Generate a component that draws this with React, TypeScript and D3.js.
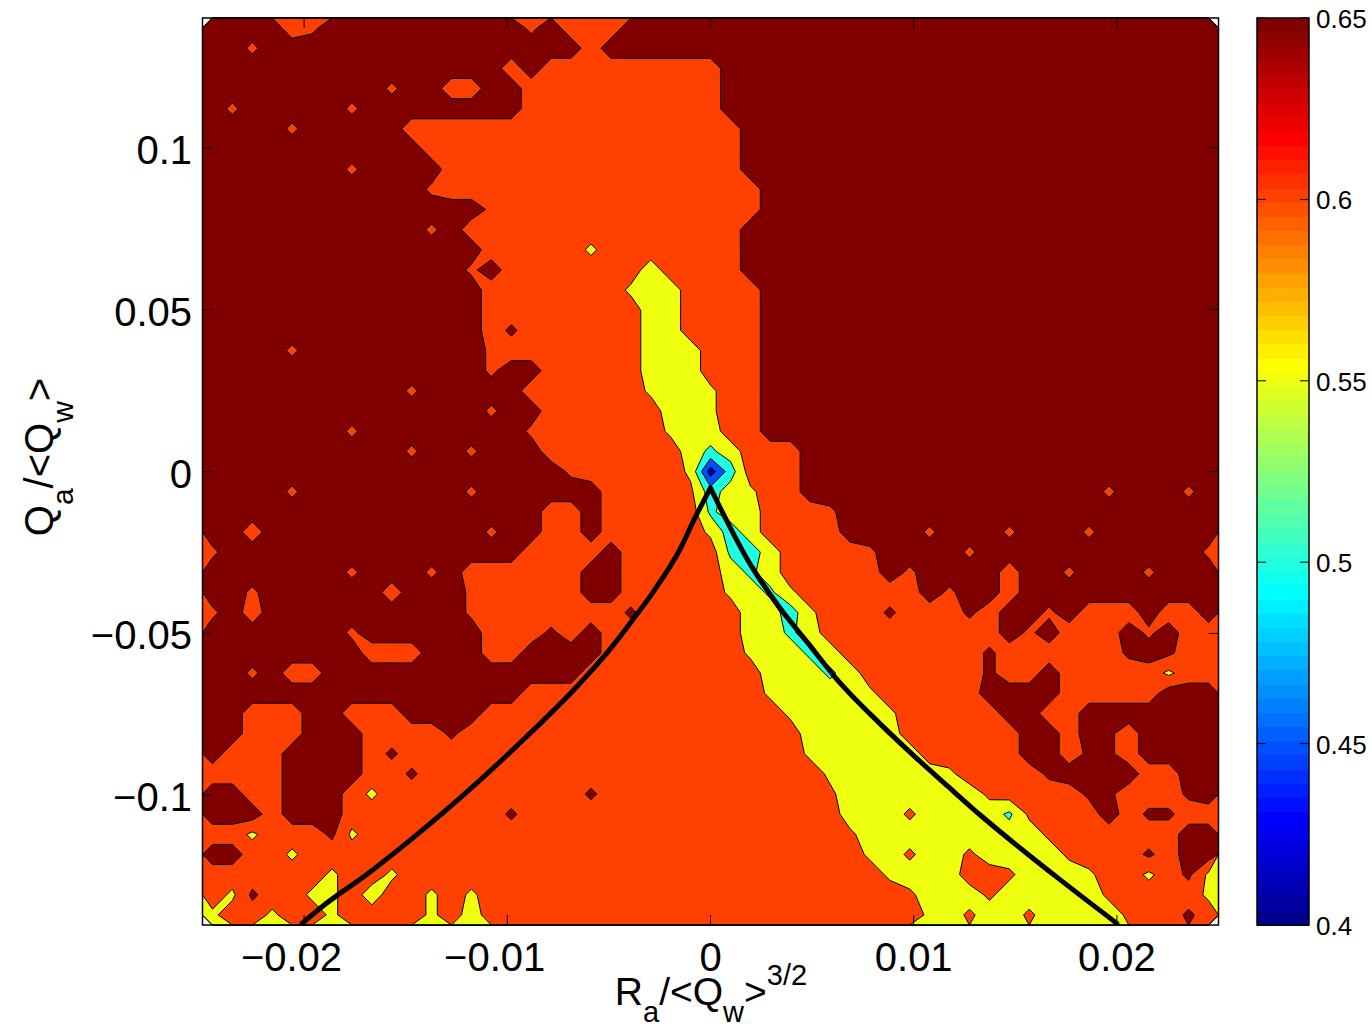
import React, { useEffect, useRef } from "react"
import * as d3 from "d3"

// axis ticks and contour levels
const xTicks = [-0.02, -0.01, 0, 0.01, 0.02]
const yTicks = [-0.1, -0.05, 0, 0.05, 0.1]
const levels = [0.4, 0.45, 0.5, 0.55, 0.6, 0.65]
const colorTicks = [0.4, 0.45, 0.5, 0.55, 0.6, 0.65]

// value of a grid cell for each code used in gridRows
const codeValues: Record<string, number> = {
    "0": 0.425, "1": 0.475, "2": 0.525, c: 0.54, "3": 0.575, y: 0.59,
    e: 0.61, "4": 0.625, o: 0.64, r: 0.66, "5": 0.675,
}

// 51 x 45 cells, top row first; "5:14" means fourteen cells of code 5
const gridRows = [
    "5:4 4 o 5:10 o 5 4:3 5:30",
    "5:2 o 5:16 4 5:31",
    "5:15 4 5 4:9 5:25",
    "5:9 o 5:2 4:2 5:2 4:10 5:25",
    "5 o 5:5 o 5:8 4:10 5:25",
    "5:4 o 5:5 4:17 5:24",
    "5:11 4:16 5:24",
    "5:7 o 5:4 4:15 5:24",
    "5:11 o 4:16 5:23",
    "5:14 o 4:13 5:23",
    "5:11 o 5 4:14 5:24",
    "5:14 4:5 y 4:7 5:24",
    "5:13 o 5 4:7 3 4:4 5:24",
    "5:14 4:7 y 3:2 4:4 5:23",
    "5:14 4:8 3:2 4:4 5:23",
    "5:14 4 r 4:6 3:2 4:4 5:23",
    "5:4 o 5:9 o 4:7 3:3 4:3 5:23",
    "5:14 o 5:2 4:5 3:3 4:3 5:23",
    "5:10 o 5:5 4:6 y 3:2 y 4:2 5:23",
    "5:14 o 5:2 4:6 3:2 y 4:2 5:23",
    "5:7 o 5:8 o 4:6 y 3:2 4:2 5:23",
    "5:10 o 5:2 o 5:3 4:7 3 c 3 4:3 5:21",
    "5:18 o 4:5 y 0 2 4:3 5:21",
    "5:4 o 5:8 o 5:6 4:4 e 2 3 y 4:2 5:15 o 5:3 o 5",
    "5:17 4:2 5 4:5 c 3:2 4:3 o 5:19",
    "5:2 4 5:11 o 5:2 4:2 5 4:5 y 2 3 4:4 5:4 o 5:3 o 5:3 o 5:6",
    "o 5:15 4:4 5 4:5 c 2 3 4:4 o 5:4 o 5:11 o",
    "5:7 o 5:3 o 5 4:6 5:2 4:5 3 c 3 4:5 5 o 5:4 4 5:2 o 5:3 o 5:3",
    "5:2 o 5:6 4 5:3 o 4:5 5:2 4:5 y 3 c y 4:6 5 o 5:2 4 5:10",
    "o 5 4 5:10 o 4:7 r 4:5 3:2 2 y 4:3 r 4:3 r 4 5:2 o 5 4:3 5 4:2 5",
    "5:7 o 5:6 4:3 r 4 5 4:7 3:2 c 3 4:9 5 o 5 4:3 5 o 5 4:2",
    "5:8 4:3 5:3 4:2 5:4 4:7 y 3:2 c 3 4:7 r 4:6 r 5 r 4:2",
    "5:2 o 5 4:2 5:13 4:9 3:3 c 3 4:6 r 4:2 5 4:5 y 4:2",
    "5:16 4:12 y 3:4 y 4:5 5:4 4:5 5:3",
    "5:2 4:3 5:2 4:3 5:4 4:15 y 3:4 y 4:5 5:2 4:2 5:7",
    "5:2 4:3 5:3 4:4 r 4:17 3:5 4:6 5:2 4 5 r 4 5:4",
    "5 4:3 5:4 4 r 4:20 y 3:5 4:5 5:2 4 r r 4 5:4",
    "4:4 5:4 4:2 r 4:20 y 3:5 y 4:4 r 5:4 4:2 5:2",
    "5:2 4:2 5:3 4 y 4:10 r 4:11 e 3:7 e 4:4 r:2 4:3 r 5",
    "5:3 4 5:3 4:8 r 4:16 3:3 e 3:4 c e 4:3 5 4 r:2 4:2",
    "4:2 y 4:3 r y 4:24 e 3:9 e 4:6 5:2",
    "5:2 4:2 y 4:28 y 3 e 3:2 e 3:4 e 4:3 r 4 5:2",
    "4:6 y 4:2 y 4:24 y 3:3 4:2 e 3:3 y 4:2 y 4 r y",
    "4 y r 4:2 y:2 4 3 4:2 y 4 y 4:21 e 3:3 e 3:5 e 4:4 y",
    "y 4:2 y 4:2 y 4:4 y 4 3 4:22 y 3 e 3:2 e 3:4 e 4:2 r 4",
]
const gridCols = 51

// black curve (R, Q)
const leftR = [-0.0201, -0.0189, -0.0169, -0.0147, -0.012, -0.0097, -0.0064, -0.005, -0.004, -0.0028, -0.0015, -0.0007, 0]
const leftQ = [-0.1395, -0.1333, -0.1243, -0.1134, -0.099, -0.0857, -0.0652, -0.0553, -0.0472, -0.037, -0.024, -0.0135, -0.0051]
const rightR = [0, 0.0005, 0.0018, 0.0034, 0.0048, 0.0062, 0.0083, 0.01, 0.0117, 0.0133, 0.0146, 0.0172, 0.02]
const rightQ = [-0.0051, -0.0115, -0.027, -0.042, -0.053, -0.064, -0.0776, -0.0877, -0.0973, -0.1062, -0.113, -0.126, -0.1395]

const font = "'Liberation Sans', Arial, sans-serif"

function decodeRow(row: string) {
    const out: number[] = []
    row.split(" ").forEach((tok) => {
        const [ch, n] = tok.split(":")
        const count = n ? +n : 1
        for (let i = 0; i < count; i++) out.push(codeValues[ch])
    })
    while (out.length < gridCols) out.push(out[out.length - 1])
    return out.slice(0, gridCols)
}

// MATLAB jet(64), index 1..64
function jet(i: number) {
    const u = (k: number) => (k < 1 || k > 47 ? 0 : k <= 16 ? k / 16 : k <= 31 ? 1 : (48 - k) / 16)
    return d3.rgb(u(i - 24) * 255, u(i - 8) * 255, u(i + 8) * 255).formatHex()
}

const cmin = 0.4
const cmax = 0.65
const levelColor = (v: number) => jet(Math.min(64, Math.floor(((v - cmin) / (cmax - cmin)) * 64 + 1e-9) + 1))

function ContourChart() {
    const svgRef = useRef<SVGSVGElement>(null)

    useEffect(() => {
        const width = 1372
        const height = 1031
        const plot = { left: 202.5, right: 1218.5, top: 18, bottom: 925 }
        const cbar = { left: 1257, right: 1309 }

        const svg = d3.select(svgRef.current)
        svg.selectAll("*").remove()
        svg.attr("width", width).attr("height", height)

        const x = d3.scaleLinear().domain([-0.025, 0.025]).range([plot.left, plot.right])
        const y = d3.scaleLinear().domain([-0.14, 0.14]).range([plot.bottom, plot.top])

        // filled contours
        const ny = gridRows.length
        const values = gridRows.flatMap(decodeRow)
        const gx = d3.scaleLinear().domain([0, gridCols]).range([plot.left, plot.right])
        const gy = d3.scaleLinear().domain([0, ny]).range([plot.top, plot.bottom])
        const contours = d3.contours().size([gridCols, ny]).thresholds(levels)(values)
        const path = d3.geoPath(
            d3.geoTransform({
                point(px: number, py: number) {
                    this.stream.point(gx(px), gy(py))
                },
            })
        )

        svg.append("defs")
            .append("clipPath")
            .attr("id", "plot-clip")
            .append("rect")
            .attr("x", plot.left)
            .attr("y", plot.top)
            .attr("width", plot.right - plot.left)
            .attr("height", plot.bottom - plot.top)

        svg.append("g")
            .selectAll("path")
            .data(contours)
            .join("path")
            .attr("d", path as any)
            .attr("fill", (d) => levelColor(d.value))
            .attr("stroke", "#000")
            .attr("stroke-width", 1)
            .attr("stroke-linejoin", "round")

        // curve
        const curveG = svg.append("g").attr("clip-path", "url(#plot-clip)")
        ;[
            [leftR, leftQ],
            [rightR, rightQ],
        ].forEach(([rs, qs]) => {
            curveG
                .append("path")
                .attr(
                    "d",
                    d3
                        .line<number>()
                        .x((_, i) => x(rs[i]))
                        .y((_, i) => y(qs[i]))
                        .curve(d3.curveMonotoneX)(rs)
                )
                .attr("fill", "none")
                .attr("stroke", "#000")
                .attr("stroke-width", 5)
                .attr("stroke-linecap", "round")
        })

        // frame and ticks
        svg.append("rect")
            .attr("x", plot.left)
            .attr("y", plot.top)
            .attr("width", plot.right - plot.left)
            .attr("height", plot.bottom - plot.top)
            .attr("fill", "none")
            .attr("stroke", "#000")
            .attr("stroke-width", 1.5)

        const ticks = svg.append("g").attr("stroke", "#000").attr("stroke-width", 1)
        xTicks.forEach((v) => {
            ticks.append("line").attr("x1", x(v)).attr("x2", x(v)).attr("y1", plot.bottom).attr("y2", plot.bottom - 10)
            ticks.append("line").attr("x1", x(v)).attr("x2", x(v)).attr("y1", plot.top).attr("y2", plot.top + 10)
        })
        yTicks.forEach((v) => {
            ticks.append("line").attr("x1", plot.left).attr("x2", plot.left + 10).attr("y1", y(v)).attr("y2", y(v))
            ticks.append("line").attr("x1", plot.right).attr("x2", plot.right - 10).attr("y1", y(v)).attr("y2", y(v))
        })

        const fmt = (v: number) => (v < 0 ? "\u2212" : "") + d3.format("~g")(Math.abs(v))

        svg.append("g")
            .selectAll("text")
            .data(xTicks)
            .join("text")
            .attr("x", (d) => (d < 0 ? x(d) + 38 : x(d)))
            .attr("y", 971)
            .attr("text-anchor", (d) => (d < 0 ? "end" : "middle"))
            .style("font-family", font)
            .style("font-size", "40px")
            .text(fmt)

        svg.append("g")
            .selectAll("text")
            .data(yTicks)
            .join("text")
            .attr("x", 192)
            .attr("y", (d) => y(d) + 16)
            .attr("text-anchor", "end")
            .style("font-family", font)
            .style("font-size", "40px")
            .text(fmt)

        // axis titles
        const xl = svg
            .append("text")
            .attr("x", 711)
            .attr("y", 1005)
            .attr("text-anchor", "middle")
            .style("font-family", font)
            .style("font-size", "39px")
        xl.append("tspan").text("R")
        xl.append("tspan").attr("dy", 17).style("font-size", "29px").text("a")
        xl.append("tspan").attr("dy", -17).text("/<Q")
        xl.append("tspan").attr("dy", 17).style("font-size", "29px").text("w")
        xl.append("tspan").attr("dy", -17).text(">")
        xl.append("tspan").attr("dy", -20).style("font-size", "29px").text("3/2")

        const yl = svg
            .append("text")
            .attr("transform", "translate(53,457) rotate(-90)")
            .attr("text-anchor", "middle")
            .style("font-family", font)
            .style("font-size", "40px")
        yl.append("tspan").text("Q")
        yl.append("tspan").attr("dy", 20).style("font-size", "30px").text("a")
        yl.append("tspan").attr("dy", -20).text("/<Q")
        yl.append("tspan").attr("dy", 20).style("font-size", "30px").text("w")
        yl.append("tspan").attr("dy", -20).text(">")

        // colour bar
        const cy = d3.scaleLinear().domain([cmin, cmax]).range([plot.bottom, plot.top])
        const step = (cmax - cmin) / 64
        const bands = d3.range(1, 65)
        svg.append("g")
            .selectAll("rect")
            .data(bands)
            .join("rect")
            .attr("x", cbar.left)
            .attr("width", cbar.right - cbar.left)
            .attr("y", (i) => cy(cmin + i * step))
            .attr("height", (i) => cy(cmin + (i - 1) * step) - cy(cmin + i * step) + 0.5)
            .attr("fill", (i) => jet(i))
            .attr("shape-rendering", "crispEdges")

        svg.append("rect")
            .attr("x", cbar.left)
            .attr("y", plot.top)
            .attr("width", cbar.right - cbar.left)
            .attr("height", plot.bottom - plot.top)
            .attr("fill", "none")
            .attr("stroke", "#000")
            .attr("stroke-width", 1.5)

        const cticks = svg.append("g").attr("stroke", "#000").attr("stroke-width", 1)
        colorTicks.forEach((v) => {
            cticks.append("line").attr("x1", cbar.left).attr("x2", cbar.left + 9).attr("y1", cy(v)).attr("y2", cy(v))
            cticks.append("line").attr("x1", cbar.right).attr("x2", cbar.right - 9).attr("y1", cy(v)).attr("y2", cy(v))
        })

        svg.append("g")
            .selectAll("text")
            .data(colorTicks)
            .join("text")
            .attr("x", 1316)
            .attr("y", (d) => cy(d) + 10)
            .style("font-family", font)
            .style("font-size", "26px")
            .text((d) => d3.format("~g")(d))
    }, [])

    return <svg ref={svgRef} />
}

export default function App() {
    return (
        <div style={{ position: "absolute", left: 0, top: 0, background: "#fff" }}>
            <ContourChart />
        </div>
    )
}
